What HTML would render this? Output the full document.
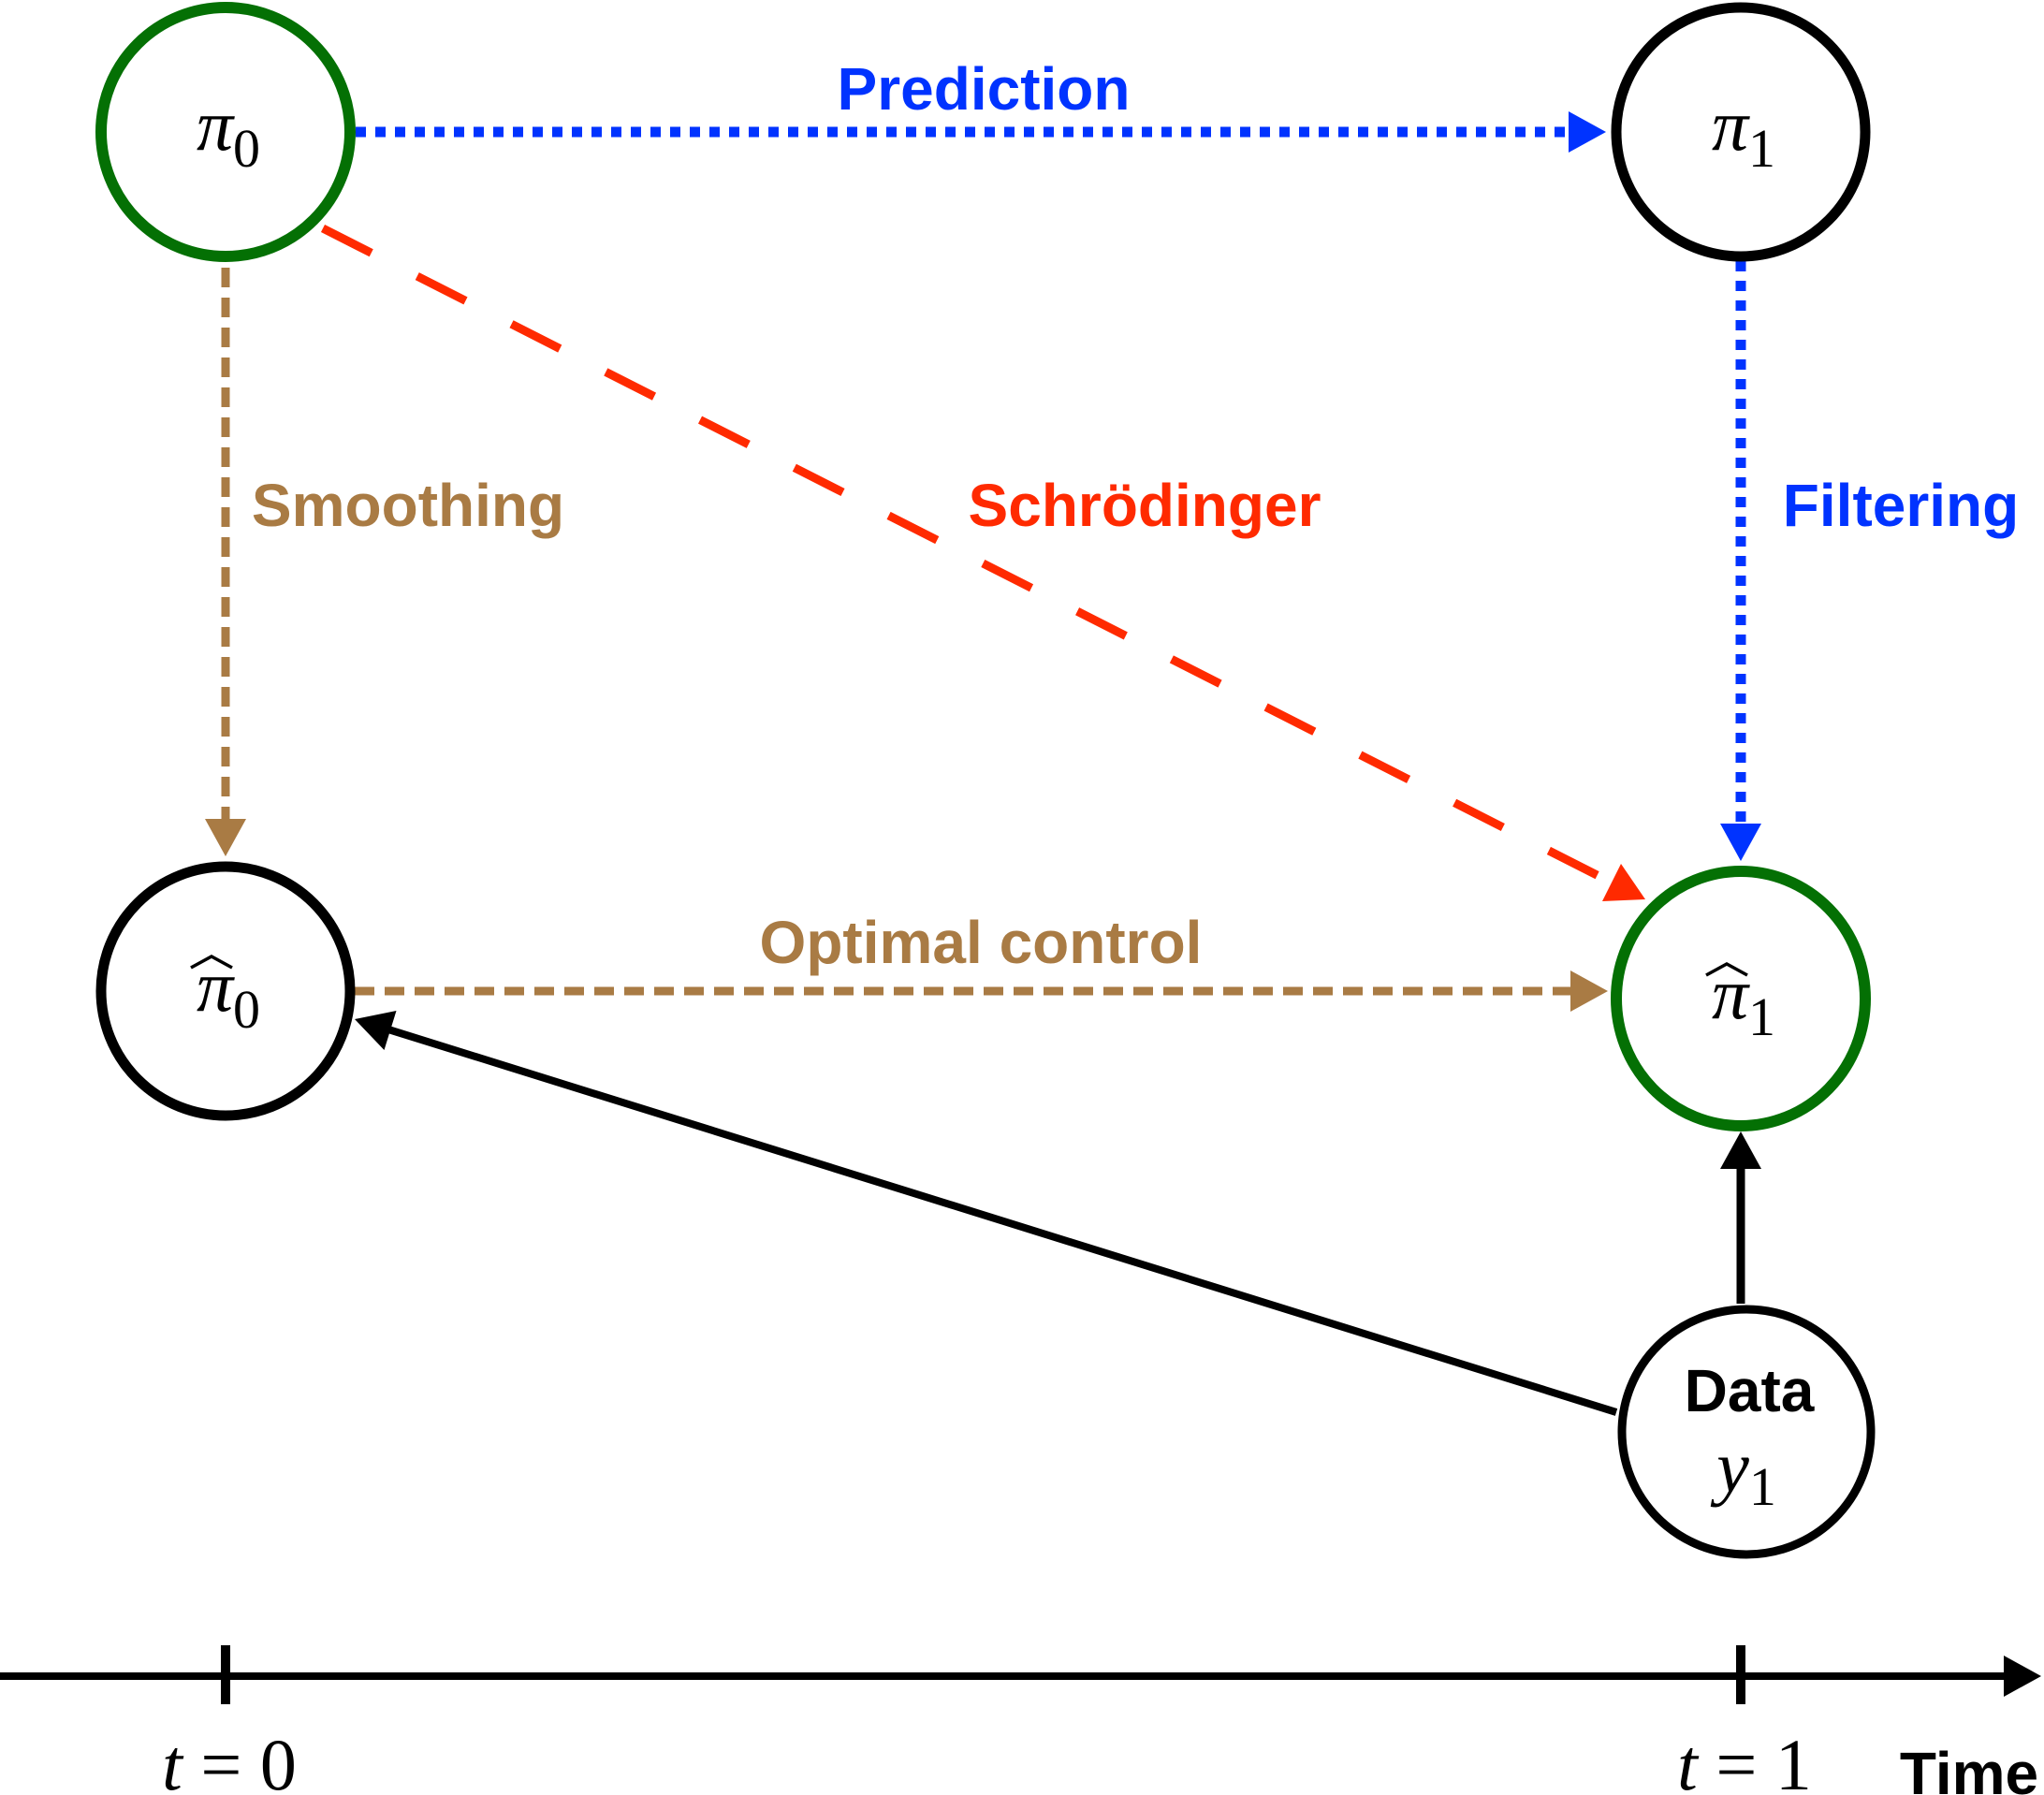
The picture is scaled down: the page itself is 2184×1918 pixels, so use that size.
<!DOCTYPE html>
<html><head><meta charset="utf-8"><style>
html,body{margin:0;padding:0;background:#fff;}
svg{display:block;}
.lb{font-family:"Liberation Sans",sans-serif;font-weight:bold;font-size:64px;text-anchor:middle;}
.m{font-family:"Liberation Serif",serif;font-size:78px;text-anchor:middle;}
</style></head><body>
<svg width="2184" height="1918" viewBox="0 0 2184 1918" xmlns="http://www.w3.org/2000/svg">
<!-- connectors -->
<line x1="380" y1="141" x2="1680" y2="141" stroke="#0033ff" stroke-width="11" stroke-dasharray="11 10"/>
<polygon points="1716,141 1676,119 1676,163" fill="#0033ff"/>
<line x1="1860" y1="279" x2="1860" y2="884" stroke="#0033ff" stroke-width="11" stroke-dasharray="11 10"/>
<polygon points="1860,920 1838,880 1882,880" fill="#0033ff"/>
<line x1="241" y1="286" x2="241" y2="878" stroke="#a97b44" stroke-width="9" stroke-dasharray="21 11"/>
<polygon points="241,915 219,875 263,875" fill="#a97b44"/>
<line x1="379" y1="1059" x2="1680" y2="1059" stroke="#a97b44" stroke-width="9" stroke-dasharray="21 11"/>
<polygon points="1718,1059 1678,1037 1678,1081" fill="#a97b44"/>
<line x1="345" y1="244" x2="1722" y2="943" stroke="#ff2a00" stroke-width="9" stroke-dasharray="58 55"/>
<polygon points="1758,961 1712,963 1732,923" fill="#ff2a00"/>
<line x1="1727" y1="1509" x2="415" y2="1100" stroke="#000" stroke-width="8"/>
<polygon points="379,1089 423.5,1080 410.5,1122" fill="#000"/>
<line x1="1860" y1="1393" x2="1860" y2="1245" stroke="#000" stroke-width="9"/>
<polygon points="1860,1209 1838,1249 1882,1249" fill="#000"/>
<!-- axis -->
<line x1="0" y1="1791" x2="2145" y2="1791" stroke="#000" stroke-width="8"/>
<polygon points="2181,1791 2141,1769 2141,1813" fill="#000"/>
<line x1="241" y1="1758" x2="241" y2="1821" stroke="#000" stroke-width="10"/>
<line x1="1860" y1="1758" x2="1860" y2="1821" stroke="#000" stroke-width="10"/>
<!-- nodes -->
<circle cx="241" cy="141" r="133" fill="#fff" stroke="#047004" stroke-width="12"/>
<circle cx="1860" cy="141" r="133" fill="#fff" stroke="#000" stroke-width="11"/>
<circle cx="241" cy="1059" r="133" fill="#fff" stroke="#000" stroke-width="11"/>
<ellipse cx="1860" cy="1067" rx="133" ry="136" fill="#fff" stroke="#047004" stroke-width="12"/>
<ellipse cx="1866" cy="1530" rx="133" ry="131" fill="#fff" stroke="#000" stroke-width="9"/>
<!-- node labels -->
<text class="m" x="244" y="160"><tspan font-style="italic">π</tspan><tspan font-size="58" dy="18">0</tspan></text>
<text class="m" x="1863" y="160"><tspan font-style="italic">π</tspan><tspan font-size="58" dy="18">1</tspan></text>
<text class="m" x="244" y="1080"><tspan font-style="italic">π</tspan><tspan font-size="58" dy="18">0</tspan></text>
<polyline points="204,1034 226,1022 248,1034" fill="none" stroke="#000" stroke-width="3.5"/>
<text class="m" x="1863" y="1088"><tspan font-style="italic">π</tspan><tspan font-size="58" dy="18">1</tspan></text>
<polyline points="1823,1042 1845,1030 1867,1042" fill="none" stroke="#000" stroke-width="3.5"/>
<text class="lb" x="1869" y="1508" fill="#000" font-size="62">Data</text>
<text class="m" x="1866" y="1594"><tspan font-style="italic">y</tspan><tspan font-size="58" dy="14">1</tspan></text>
<!-- edge labels -->
<text class="lb" x="1051" y="117" fill="#0033ff">Prediction</text>
<text class="lb" x="2031" y="562" fill="#0033ff">Filtering</text>
<text class="lb" x="436" y="562" fill="#a97b44">Smoothing</text>
<text class="lb" x="1223" y="562" fill="#ff2a00">Schrödinger</text>
<text class="lb" x="1048" y="1029" fill="#a97b44">Optimal control</text>
<!-- axis labels -->
<text class="m" x="245" y="1912" font-size="84" style="white-space:pre"><tspan font-style="italic">t</tspan> = 0</text>
<text class="m" x="1864" y="1912" font-size="84" style="white-space:pre"><tspan font-style="italic">t</tspan> = 1</text>
<text class="lb" x="2104" y="1917" fill="#000" font-size="62">Time</text>
</svg>
</body></html>
